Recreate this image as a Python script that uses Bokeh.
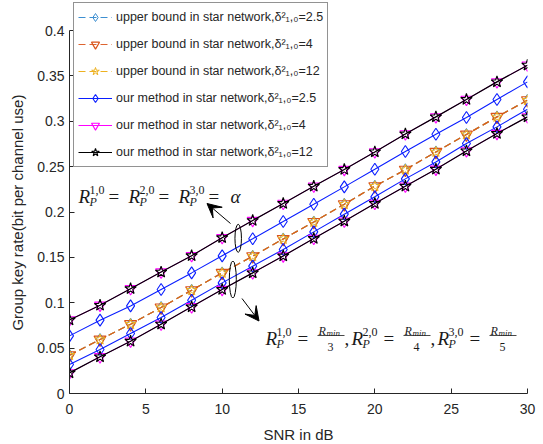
from bokeh.plotting import figure
from bokeh.models import Legend, LegendItem, Label, Arrow, VeeHead
from bokeh.embed import file_html
from bokeh.resources import INLINE

# ---------------- data ----------------
snr_db = [0, 2, 4, 6, 8, 10, 12, 14, 16, 18, 20, 22, 24, 26, 28, 30]

# upper bound (identical for the three delta values)
ub_d25 = [0.0422, 0.0595, 0.0764, 0.0948, 0.1138, 0.1329, 0.1513, 0.1703,
          0.1890, 0.2086, 0.2284, 0.2466, 0.2662, 0.2854, 0.3048, 0.3232]
ub_d4 = [0.0422, 0.0595, 0.0764, 0.0948, 0.1138, 0.1329, 0.1513, 0.1703,
         0.1890, 0.2086, 0.2284, 0.2466, 0.2662, 0.2854, 0.3048, 0.3232]
ub_d12 = [0.0422, 0.0595, 0.0764, 0.0948, 0.1138, 0.1329, 0.1513, 0.1703,
          0.1890, 0.2086, 0.2284, 0.2466, 0.2662, 0.2854, 0.3048, 0.3232]

# our method, R_P^{k,0} = alpha
om_alpha_d25 = [0.0635, 0.0808, 0.0965, 0.1146, 0.1329, 0.1517, 0.1705, 0.1896,
                0.2086, 0.2277, 0.2471, 0.2666, 0.2857, 0.3041, 0.3240, 0.3434]
om_alpha_d4 = [0.0810, 0.0972, 0.1155, 0.1338, 0.1518, 0.1717, 0.1906, 0.2094,
               0.2284, 0.2468, 0.2662, 0.2860, 0.3048, 0.3240, 0.3434, 0.3618]
om_alpha_d12 = [0.0810, 0.0972, 0.1155, 0.1338, 0.1518, 0.1717, 0.1906, 0.2094,
                0.2284, 0.2468, 0.2662, 0.2860, 0.3048, 0.3240, 0.3434, 0.3618]

# our method, R_P^{k,0} = R_min/(k+2)
om_rmin_d25 = [0.0320, 0.0485, 0.0661, 0.0837, 0.1028, 0.1219, 0.1403, 0.1587,
               0.1781, 0.1976, 0.2167, 0.2365, 0.2552, 0.2755, 0.2938, 0.3133]
om_rmin_d4 = [0.0227, 0.0404, 0.0576, 0.0764, 0.0955, 0.1146, 0.1329, 0.1515,
              0.1708, 0.1899, 0.2094, 0.2284, 0.2471, 0.2673, 0.2865, 0.3048]
om_rmin_d12 = [0.0227, 0.0404, 0.0576, 0.0764, 0.0955, 0.1146, 0.1329, 0.1515,
               0.1708, 0.1899, 0.2094, 0.2284, 0.2471, 0.2673, 0.2865, 0.3048]

x_ticks = [0, 5, 10, 15, 20, 25, 30]
y_ticks = [0, 0.05, 0.1, 0.15, 0.2, 0.25, 0.3, 0.35, 0.4]
y_tick_labels = ["0", "0.05", "0.1", "0.15", "0.2", "0.25", "0.3", "0.35", "0.4"]

legend_labels = [
    "upper bound in star network,\u03b4\u00b2\u2081,\u2080=2.5",
    "upper bound in star network,\u03b4\u00b2\u2081,\u2080=4",
    "upper bound in star network,\u03b4\u00b2\u2081,\u2080=12",
    "our method in star network,\u03b4\u00b2\u2081,\u2080=2.5",
    "our method in star network,\u03b4\u00b2\u2081,\u2080=4",
    "our method in star network,\u03b4\u00b2\u2081,\u2080=12",
]

# ---------------- figure ----------------
LEFT, RIGHT, TOP, BOTTOM = 69, 16, 2, 51
FW, FH = 458, 391
PX_PER_UNIT_Y = 907.5          # 0.4 spans 363 px
X0, X1 = 0, 30
Y0, Y1 = 0, FH / PX_PER_UNIT_Y

p = figure(frame_width=FW, frame_height=FH, x_range=(X0, X1), y_range=(Y0, Y1),
           output_backend="svg", toolbar_location=None,
           min_border_left=LEFT, min_border_right=RIGHT,
           min_border_top=TOP, min_border_bottom=BOTTOM)
p.outline_line_color = None
p.xgrid.visible = False
p.ygrid.visible = False
p.background_fill_color = "white"


def X(px):
    return X0 + (px - LEFT) / FW * (X1 - X0)


def Y(py):
    return Y0 + (TOP + FH - py) / FH * (Y1 - Y0)


AX = "#262626"
for ax in (p.xaxis[0], p.yaxis[0]):
    ax.axis_line_color = AX
    ax.major_tick_line_color = AX
    ax.major_tick_in = 5
    ax.major_tick_out = 0
    ax.minor_tick_line_color = None
    ax.major_label_text_font = "Liberation Sans"
    ax.major_label_text_font_size = "14px"
    ax.major_label_text_color = AX
    ax.axis_label_text_font = "Liberation Sans"
    ax.axis_label_text_font_size = "15px"
    ax.axis_label_text_font_style = "normal"
    ax.axis_label_text_color = AX

p.xaxis.ticker = x_ticks
p.yaxis.ticker = y_ticks
p.yaxis.bounds = (y_ticks[0], y_ticks[-1])
p.yaxis.major_label_overrides = {v: s for v, s in zip(y_ticks, y_tick_labels)}
p.xaxis.major_label_standoff = 10
p.yaxis.major_label_standoff = 5
p.xaxis.axis_label = "SNR in dB"
# trailing no-break spaces centre the label on the 0..0.4 axis line
p.yaxis.axis_label = "Group key rate(bit per channel use)" + "\u00a0" * 7
p.xaxis.axis_label_standoff = 9
p.yaxis.axis_label_standoff = 8

C_UB25 = "#3d8fd1"
C_UB4 = "#D95319"
C_UB12 = "#EDB120"
C_BLUE = "#0a1eff"
C_MAG = "#ff00ff"
C_BLK = "#000000"
DASH = "7 4"

# upper bound lines
l_ub25 = p.line(snr_db, ub_d25, line_color=C_UB25, line_dash=DASH, line_width=1.2)
l_ub12 = p.line(snr_db, ub_d12, line_color=C_UB12, line_dash=DASH, line_width=1.2)
l_ub4 = p.line(snr_db, ub_d4, line_color=C_UB4, line_dash=DASH, line_width=1.2, line_alpha=0.9)
m_ub25 = p.scatter(snr_db, ub_d25, marker="diamond", size=12, fill_color=None,
                   line_color=C_UB25, line_width=1)
m_ub4 = p.scatter(snr_db, ub_d4, marker="inverted_triangle", size=12, fill_color=None,
                  line_color=C_UB4, line_width=1.2)
m_ub12 = p.scatter(snr_db, ub_d12, marker="star", size=11, fill_color=None,
                   line_color=C_UB12, line_width=1)

# our method lines
l_om25a = p.line(snr_db, om_alpha_d25, line_color=C_BLUE, line_width=1.1)
l_om25b = p.line(snr_db, om_rmin_d25, line_color=C_BLUE, line_width=1.1)
m_om25a = p.scatter(snr_db, om_alpha_d25, marker="diamond", size=12, fill_color=None,
                    line_color=C_BLUE, line_width=1.1)
m_om25b = p.scatter(snr_db, om_rmin_d25, marker="diamond", size=12, fill_color=None,
                    line_color=C_BLUE, line_width=1.1)

l_om4a = p.line(snr_db, om_alpha_d4, line_color=C_MAG, line_width=1)
l_om4b = p.line(snr_db, om_rmin_d4, line_color=C_MAG, line_width=1)
m_om4a = p.scatter(snr_db, om_alpha_d4, marker="inverted_triangle", size=11, fill_color=None,
                   line_color=C_MAG, line_width=1.1)
m_om4b = p.scatter(snr_db, om_rmin_d4, marker="inverted_triangle", size=11, fill_color=None,
                   line_color=C_MAG, line_width=1.1)

l_om12a = p.line(snr_db, om_alpha_d12, line_color=C_BLK, line_width=1.2)
l_om12b = p.line(snr_db, om_rmin_d12, line_color=C_BLK, line_width=1.2)
m_om12a = p.scatter(snr_db, om_alpha_d12, marker="star", size=12, fill_color=None,
                    line_color=C_BLK, line_width=1.1)
m_om12b = p.scatter(snr_db, om_rmin_d12, marker="star", size=12, fill_color=None,
                    line_color=C_BLK, line_width=1.1)

items = [
    LegendItem(label=legend_labels[0], renderers=[l_ub25, m_ub25]),
    LegendItem(label=legend_labels[1], renderers=[l_ub4, m_ub4]),
    LegendItem(label=legend_labels[2], renderers=[l_ub12, m_ub12]),
    LegendItem(label=legend_labels[3], renderers=[l_om25a, m_om25a]),
    LegendItem(label=legend_labels[4], renderers=[l_om4a, m_om4a]),
    LegendItem(label=legend_labels[5], renderers=[l_om12a, m_om12a]),
]
legend = Legend(items=items, location=(4, 226), orientation="vertical",
                label_text_font="Liberation Sans", label_text_font_size="12.5px",
                label_text_color=AX, glyph_width=34, glyph_height=20,
                label_height=20, spacing=7, padding=4, margin=0, label_standoff=4,
                border_line_color=AX, border_line_width=1,
                background_fill_color="white", background_fill_alpha=1)
p.add_layout(legend, "center")

# ---------------- annotations ----------------
MATH_FONT = "Liberation Serif"
TXT = "#1a1a1a"


def put(px, py, s, size, italic=False):
    p.add_layout(Label(x=X(px), y=Y(py), text=s, text_font=MATH_FONT,
                       text_font_size=f"{size}px",
                       text_font_style="italic" if italic else "normal",
                       text_color=TXT, text_baseline="alphabetic", text_align="left"))


# R_P^{1,0} = R_P^{2,0} = R_P^{3,0} = alpha
for k, rx in zip(["1,0", "2,0", "3,0"], [78, 128, 178]):
    put(rx, 196, "R", 19, True)
    put(rx + 11, 189, k, 12)
    put(rx + 11, 201, "P", 12, True)
    put(rx + 30, 196, "=", 19)
put(230, 196, "\u03b1", 19, True)

# R_P^{1,0} = R_min/3, R_P^{2,0} = R_min/4, R_P^{3,0} = R_min/5
bar_x0, bar_x1, bar_y = [], [], []
for k, d, sx, last in zip(["1,0", "2,0", "3,0"], ["3", "4", "5"], [263, 349, 435],
                          [False, False, True]):
    put(sx + 2, 338, "R", 19, True)
    put(sx + 13, 331, k, 12)
    put(sx + 13, 343, "P", 12, True)
    put(sx + 34, 338, "=", 19)
    put(sx + 55, 330, "R", 12, True)
    put(sx + 63, 332, "min", 9, True)
    put(sx + 64, 346, d, 12)
    if not last:
        put(sx + 81, 338, ",", 19)
    bar_x0.append(X(sx + 54))
    bar_x1.append(X(sx + 81))
    bar_y.append(Y(335))
p.segment(bar_x0, bar_y, bar_x1, bar_y, line_color=TXT, line_width=0.8)

# ellipses grouping the curves
p.ellipse(x=[X(237.7), X(232.3)], y=[Y(237.8), Y(279)], width=[6.5, 7],
          height=[28, 37], width_units="screen", height_units="screen",
          fill_color=None, line_color="black", line_width=1)

# arrows
p.add_layout(Arrow(x_start=X(230), y_start=Y(223), x_end=X(206.5), y_end=Y(203),
                   line_color="black", line_width=1,
                   end=VeeHead(size=14, fill_color="black", line_color="black")))
p.add_layout(Arrow(x_start=X(241.5), y_start=Y(298), x_end=X(258.5), y_end=Y(320.5),
                   line_color="black", line_width=1,
                   end=VeeHead(size=14, fill_color="black", line_color="black")))

open("out.html", "w").write(file_html(p, INLINE))
